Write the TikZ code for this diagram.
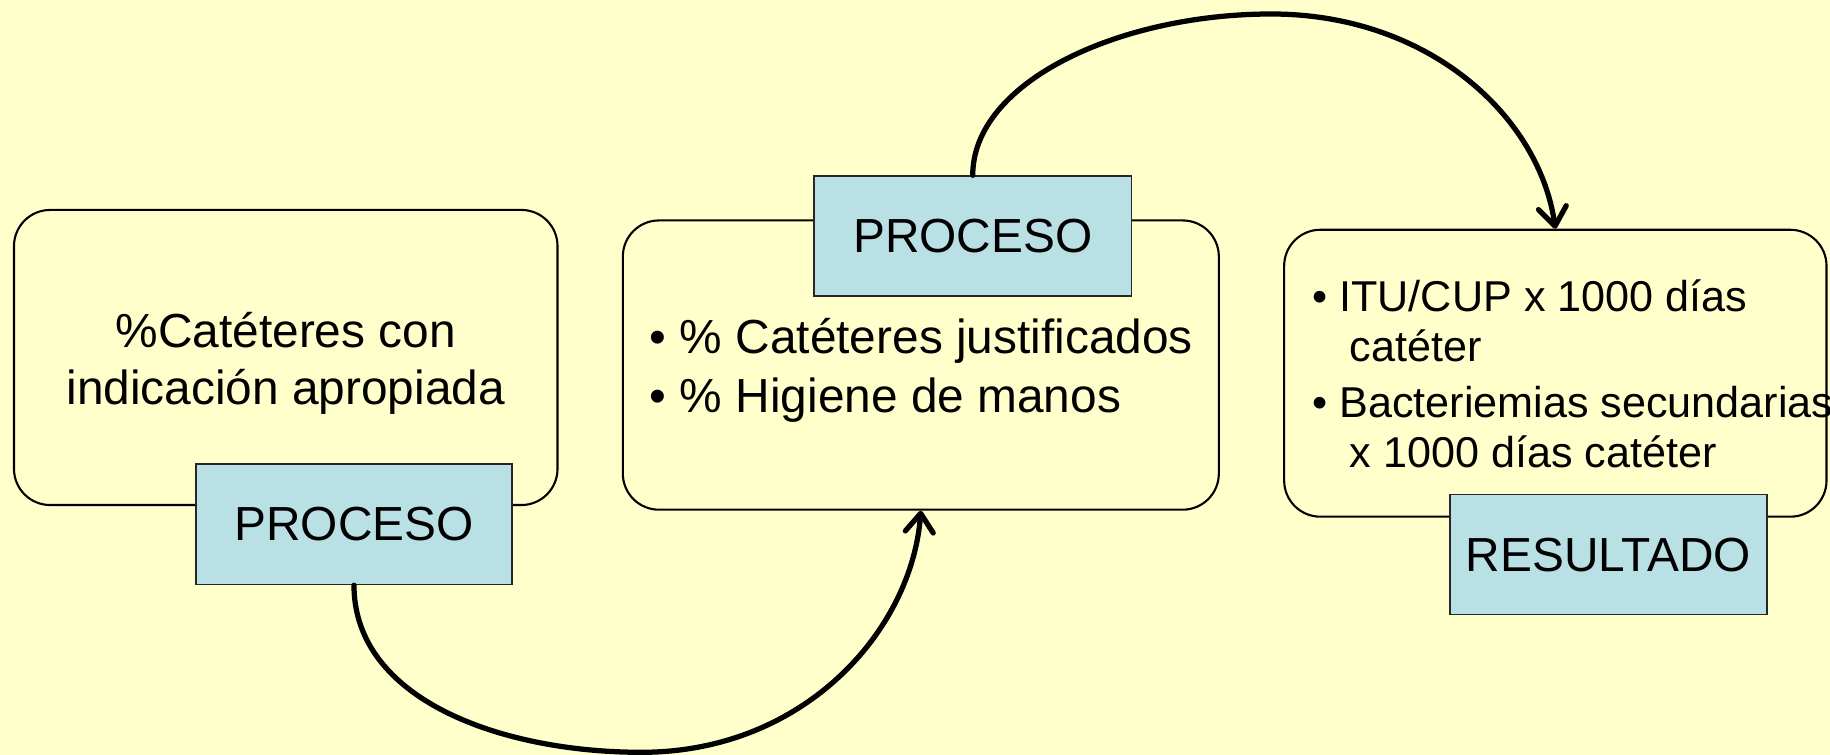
\documentclass[tikz,border=0pt]{standalone}
\usepackage{fontspec}
\setmainfont{Liberation Sans}
\usetikzlibrary{arrows.meta}
\definecolor{bg}{RGB}{255,255,204}
\definecolor{tagblue}{RGB}{185,224,228}
\begin{document}
\begin{tikzpicture}[x=1pt,y=-1pt,
  card/.style={draw=black, line width=1.8pt, rounded corners=31pt, inner sep=0pt},
  tag/.style={draw=black!85, line width=1.4pt, fill=tagblue, inner sep=0pt, font=\fontsize{41}{49}\selectfont},
  bigtxt/.style={inner sep=0pt, font=\fontsize{41}{49}\selectfont},
  smalltxt/.style={inner sep=0pt, anchor=base west, font=\fontsize{37}{44}\selectfont},
  flow/.style={line width=4.5pt, line cap=round, -{Straight Barb[length=16pt,width=24pt,line width=4.5pt,round]}}]
\fill[bg] (0,0) rectangle (1569,647.3);
\useasboundingbox (0,0) rectangle (1569,647.3);

% cards
\node[card, minimum width=466pt, minimum height=253pt] (box1) at (245,306.5) {};
\node[card, minimum width=511pt, minimum height=248pt] (box2) at (789.5,313) {};
\node[card, minimum width=465pt, minimum height=246pt] (box3) at (1333.5,320) {};

% tags
\node[tag, minimum width=271pt, minimum height=103pt] (lab1) at (303.5,449.5) {PROCESO};
\node[tag, minimum width=272pt, minimum height=103pt] (lab2) at (834,202.5) {PROCESO};
\node[tag, minimum width=272pt, minimum height=103pt] (lab3) at (1379,475.5) {RESULTADO};

% texts
\node[bigtxt, anchor=base] (t1a) at (245,298) {\%Catéteres con};
\node[bigtxt, anchor=base] (t1b) at (245,347) {indicación apropiada};

\node[bigtxt, anchor=base west] (t2a) at (557,303.5) {\textbullet\ \% Catéteres justificados};
\node[bigtxt, anchor=base west] (t2b) at (557,353.5) {\textbullet\ \% Higiene de manos};

\node[smalltxt] (t3a) at (1125,267) {\textbullet\ ITU/CUP x 1000 días};
\node[smalltxt] (t3b) at (1157,310) {catéter};
\node[smalltxt] (t3c) at (1125,358) {\textbullet\ Bacteriemias secundarias};
\node[smalltxt] (t3d) at (1157,401) {x 1000 días catéter};

% connectors
\draw[flow] (lab1.south) .. controls (303.5,600) and (430,645) .. (550,645)
  .. controls (690,645) and (782,540) .. (box2.south);
\draw[flow] (lab2.north) .. controls (834,70) and (960,12) .. (1090,12)
  .. controls (1225,12) and (1320,100) .. (box3.north);
\end{tikzpicture}
\end{document}
